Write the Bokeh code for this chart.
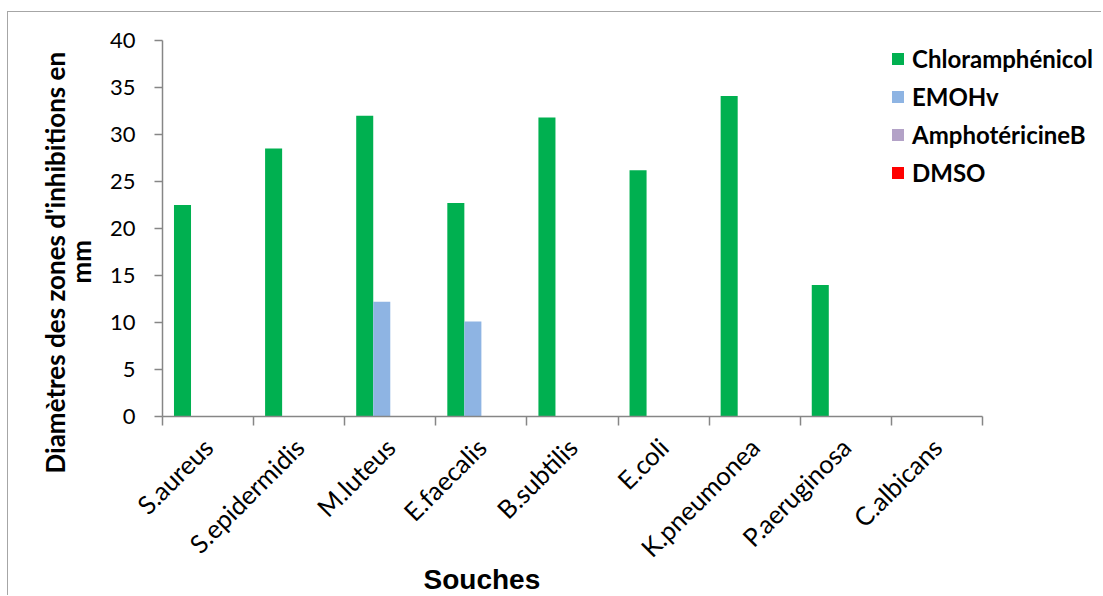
import math
from bokeh.plotting import figure
from bokeh.models import FixedTicker, Legend, LegendItem, Range1d, ColumnDataSource, Title
from bokeh.transform import dodge
from bokeh.embed import file_html
from bokeh.resources import INLINE

# ---- data ----
categories = ["S.aureus", "S.epidermidis", "M.luteus", "E.faecalis", "B.subtilis",
              "E.coli", "K.pneumonea", "P.aeruginosa", "C.albicans"]
chloramphenicol = [22.5, 28.5, 32.0, 22.7, 31.8, 26.2, 34.1, 14.0, 0.0]
emohv = [0.0, 0.0, 12.2, 10.1, 0.0, 0.0, 0.0, 0.0, 0.0]
amphotericine_b = [0.0, 0.0, 0.0, 0.0, 0.0, 0.0, 0.0, 0.0, 0.0]
dmso = [0.0, 0.0, 0.0, 0.0, 0.0, 0.0, 0.0, 0.0, 0.0]
series_names = ["Chloramphénicol", "EMOHv", "AmphotéricineB", "DMSO"]
series_colors = ["#00B050", "#8EB4E3", "#B3A2C7", "#FF0000"]
y_ticks = [0, 5, 10, 15, 20, 25, 30, 35, 40]

n = len(categories)
pos = [i + 0.5 for i in range(n)]
source = ColumnDataSource(dict(pos=pos, s0=chloramphenicol, s1=emohv, s2=amphotericine_b, s3=dmso))

FONT = "Lato"

# ---- layout (pixels) ----
W, H = 1094, 584
LEFT, TOP, RIGHT = 154, 28, 2
FRAME_H = 376
BOTTOM = H - TOP - FRAME_H
AXIS_W = 820                       # length of the category axis
FRAME_W = W - LEFT - RIGHT         # frame extends to the right to hold the legend
x_end = n * FRAME_W / AXIS_W

p = figure(width=W, height=H,
           x_range=Range1d(0, x_end), y_range=Range1d(0, 40),
           output_backend="svg", toolbar_location=None,
           min_border_left=LEFT, min_border_right=RIGHT,
           min_border_top=TOP, min_border_bottom=BOTTOM)
p.styles = {"border-left": "1px solid #a6a6a6", "border-top": "1px solid #a6a6a6",
            "margin-left": "7px", "margin-top": "11px"}
p.outline_line_color = None
p.xgrid.visible = False
p.ygrid.visible = False

bw = 0.187
offsets = [-1.5 * bw, -0.5 * bw, 0.5 * bw, 1.5 * bw]
renderers = []
for k in range(4):
    r = p.vbar(x=dodge("pos", offsets[k], range=p.x_range), top="s%d" % k, width=bw,
               bottom=0, source=source, fill_color=series_colors[k], line_color=None)
    renderers.append(r)

# x axis: ticks at category boundaries, labels at centres
xa = p.xaxis[0]
xa.bounds = (0, n)
xa.ticker = FixedTicker(ticks=pos, minor_ticks=list(range(n + 1)))
xa.major_label_overrides = {pp: c for pp, c in zip(pos, categories)}
xa.major_tick_out = 0
xa.major_tick_in = 0
xa.minor_tick_out = 9
xa.minor_tick_in = 0
xa.minor_tick_line_color = "#868686"
xa.minor_tick_line_width = 1.5
xa.axis_line_color = "#868686"
xa.axis_line_width = 1.5
xa.major_label_orientation = math.pi / 4
xa.major_label_text_font = FONT
xa.major_label_text_font_size = "25.5px"
xa.major_label_text_color = "black"
xa.major_label_standoff = 17

ya = p.yaxis[0]
ya.ticker = FixedTicker(ticks=y_ticks, minor_ticks=[])
ya.major_tick_out = 8
ya.major_tick_in = 0
ya.major_tick_line_color = "#868686"
ya.major_tick_line_width = 1.5
ya.axis_line_color = "#868686"
ya.axis_line_width = 1.5
ya.major_label_text_font = FONT
ya.major_label_text_font_size = "22px"
ya.major_label_text_color = "black"
ya.major_label_standoff = 19

# axis titles (as side-panel titles so they can sit off-centre like the original)
t_mm = Title(text="mm", align="left", offset=133, standoff=20,
             text_font=FONT, text_font_style="bold", text_font_size="26px", text_color="black")
t_y = Title(text="Diamètres des zones d'inhibitions en", align="left", offset=-57, standoff=-36,
            text_font=FONT, text_font_style="bold", text_font_size="26px", text_color="black")
p.add_layout(t_mm, "left")
p.add_layout(t_y, "left")
t_x = Title(text="Souches", align="left", offset=261, standoff=-26, vertical_align="top",
            text_font="Liberation Sans", text_font_style="bold", text_font_size="28px",
            text_color="black")
p.add_layout(t_x, "below")

legend = Legend(items=[LegendItem(label=s, renderers=[r]) for s, r in zip(series_names, renderers)],
                location=(728, 229), orientation="vertical")
legend.glyph_width = 15
legend.glyph_height = 15
legend.label_height = 29
legend.spacing = 9
legend.padding = 0
legend.margin = 0
legend.label_standoff = 7
legend.border_line_color = None
legend.background_fill_alpha = 0
legend.label_text_font = FONT
legend.label_text_font_style = "bold"
legend.label_text_font_size = "24px"
legend.label_text_color = "black"
p.add_layout(legend, "center")

open("out.html", "w").write(file_html(p, INLINE))
